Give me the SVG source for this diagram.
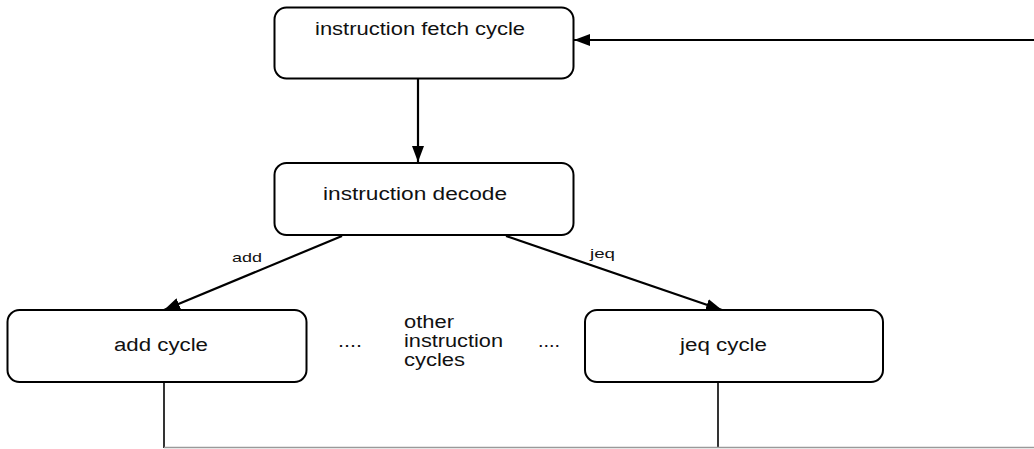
<svg xmlns="http://www.w3.org/2000/svg" width="1034" height="449" viewBox="0 0 1034 449">
<style>
.box{fill:#fff;stroke:#000;stroke-width:2}
.t{font-family:"Liberation Sans",Arial,sans-serif;font-size:18px;fill:#111}
.lbl{font-family:"Liberation Sans",Arial,sans-serif;font-size:13.5px;fill:#111}
.c{fill:none;stroke:#000;stroke-width:2.2}
.thin{fill:none;stroke:#000;stroke-width:1.6}
.gray{fill:none;stroke:#9a9a9a;stroke-width:1.6}
</style>
<defs>
<marker id="ah" viewBox="0 0 16 12" refX="16" refY="6" markerWidth="16" markerHeight="12" markerUnits="userSpaceOnUse" orient="auto">
<path d="M0,0 L16,6 L0,12 Z" fill="#000"/>
</marker>
</defs>
<g id="connectors">
<line class="c" x1="418" y1="79" x2="418" y2="162" marker-end="url(#ah)"/>
<line class="c" x1="1034" y1="40" x2="574" y2="40" marker-end="url(#ah)"/>
<line class="c" x1="342" y1="236" x2="164" y2="310" marker-end="url(#ah)"/>
<line class="c" x1="506" y1="236" x2="722" y2="310" marker-end="url(#ah)"/>
<line class="thin" x1="164" y1="382" x2="164" y2="448"/>
<line class="thin" x1="718" y1="382" x2="718" y2="448"/>
<line class="gray" x1="164" y1="447.5" x2="1034" y2="447.5"/>
<text class="lbl" x="232" y="262" textLength="30" lengthAdjust="spacingAndGlyphs">add</text>
<text class="lbl" x="590" y="258" textLength="25" lengthAdjust="spacingAndGlyphs">jeq</text>
</g>
<g id="fetch">
<rect class="box" x="274.5" y="7.5" width="299" height="71" rx="12"/>
<text class="t" x="315" y="35" textLength="210" lengthAdjust="spacingAndGlyphs">instruction fetch cycle</text>
</g>
<g id="decode">
<rect class="box" x="274.5" y="163" width="299" height="72" rx="12"/>
<text class="t" x="323" y="200" textLength="184" lengthAdjust="spacingAndGlyphs">instruction decode</text>
</g>
<g id="add">
<rect class="box" x="7.5" y="310" width="299" height="72" rx="12"/>
<text class="t" x="114" y="351" textLength="94" lengthAdjust="spacingAndGlyphs">add cycle</text>
</g>
<g id="jeq">
<rect class="box" x="585" y="310" width="298" height="72" rx="12"/>
<text class="t" x="680" y="351" textLength="87" lengthAdjust="spacingAndGlyphs">jeq cycle</text>
</g>
<g id="other">
<text class="t" x="338" y="347" textLength="24" lengthAdjust="spacingAndGlyphs">....</text>
<text class="t" x="404" y="328" textLength="50" lengthAdjust="spacingAndGlyphs">other</text>
<text class="t" x="404" y="347" textLength="99" lengthAdjust="spacingAndGlyphs">instruction</text>
<text class="t" x="404" y="366" textLength="61" lengthAdjust="spacingAndGlyphs">cycles</text>
<text class="t" x="538" y="347" textLength="22" lengthAdjust="spacingAndGlyphs">....</text>
</g>
</svg>
